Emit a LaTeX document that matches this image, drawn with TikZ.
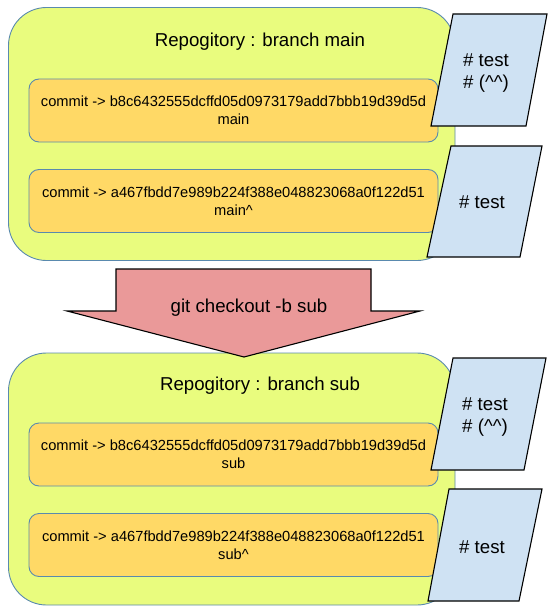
\documentclass[tikz,border=0pt]{standalone}
\usepackage{fontspec}
\setmainfont{Liberation Sans}
\definecolor{repoc}{HTML}{E9FC7E}
\definecolor{commitc}{HTML}{FFD966}
\definecolor{notec}{HTML}{CFE2F3}
\definecolor{arrowc}{HTML}{EA9999}
\definecolor{bordc}{HTML}{5A8AAE}
\begin{document}
\begin{tikzpicture}[x=1pt,y=-1pt,
  repo/.style={draw=bordc, fill=repoc, line width=0.9pt, rounded corners=38pt,
    minimum width=446.5pt, inner sep=0pt},
  titletext/.style={font=\fontsize{18.67}{22}\selectfont, inner sep=0pt},
  commit/.style={draw=bordc, fill=commitc, line width=0.9pt, rounded corners=10pt,
    minimum width=409pt, minimum height=63pt, inner sep=0pt, align=center,
    font=\fontsize{14.67}{18}\selectfont},
  note/.style={draw=black, fill=notec, line width=1.1pt, line join=miter},
  notetext/.style={align=center, inner sep=0pt, font=\fontsize{18.67}{22}\selectfont},
  bigarrow/.style={draw=black, fill=arrowc, line width=1.1pt, line join=miter},
  arrowtext/.style={inner sep=0pt, font=\fontsize{18.67}{22}\selectfont}]
\useasboundingbox (0,0) rectangle (554,615);

% ---------- top repository ----------
\node[repo, minimum height=253pt] (repoA) at (231.75,134) {};
\node[titletext] (titleA) at (260,42) {Repogitory : branch main};
\node[commit] (cA1) at (233.5,110.5) {commit -> b8c6432555dcffd05d0973179add7bbb19d39d5d\\main};
\node[commit] (cA2) at (233.5,201) {commit -> a467fbdd7e989b224f388e048823068a0f122d51\\main\textasciicircum};

\coordinate (nA1a) at (453,14);
\coordinate (nA1b) at (547,14);
\coordinate (nA1c) at (526,126);
\coordinate (nA1d) at (431,126);
\draw[note] (nA1a) -- (nA1b) -- (nA1c) -- (nA1d) -- cycle;
\node[notetext] (tA1) at (486,73) {\# test\\\# (\textasciicircum\textasciicircum)};

\coordinate (nA2a) at (451,146);
\coordinate (nA2b) at (542,146);
\coordinate (nA2c) at (520,257);
\coordinate (nA2d) at (427,257);
\draw[note] (nA2a) -- (nA2b) -- (nA2c) -- (nA2d) -- cycle;
\node[notetext] (tA2) at (482,202) {\# test};

% ---------- bottom repository ----------
\node[repo, minimum height=252pt] (repoB) at (231.75,479) {};
\node[titletext] (titleB) at (260,386) {Repogitory : branch sub};
\node[commit] (cB1) at (233.5,454.5) {commit -> b8c6432555dcffd05d0973179add7bbb19d39d5d\\sub};
\node[commit] (cB2) at (233.5,545) {commit -> a467fbdd7e989b224f388e048823068a0f122d51\\sub\textasciicircum};

\coordinate (nB1a) at (453,358);
\coordinate (nB1b) at (546,358);
\coordinate (nB1c) at (524,470);
\coordinate (nB1d) at (431,470);
\draw[note] (nB1a) -- (nB1b) -- (nB1c) -- (nB1d) -- cycle;
\node[notetext] (tB1) at (485,417) {\# test\\\# (\textasciicircum\textasciicircum)};

\coordinate (nB2a) at (449,489);
\coordinate (nB2b) at (542,489);
\coordinate (nB2c) at (519,601);
\coordinate (nB2d) at (428,601);
\draw[note] (nB2a) -- (nB2b) -- (nB2c) -- (nB2d) -- cycle;
\node[notetext] (tB2) at (482,547) {\# test};

% ---------- arrow ----------
\coordinate (arTL) at (116,269);
\coordinate (arTR) at (371,269);
\coordinate (arSR) at (371,311);
\coordinate (arWR) at (420,311);
\coordinate (arTip) at (244,357);
\coordinate (arWL) at (67,311);
\coordinate (arSL) at (116,311);
\draw[bigarrow] (arTL) -- (arTR) -- (arSR) -- (arWR) -- (arTip) -- (arWL) -- (arSL) -- cycle;
\node[arrowtext] (arT) at (249,308) {git checkout -b sub};
\end{tikzpicture}
\end{document}
